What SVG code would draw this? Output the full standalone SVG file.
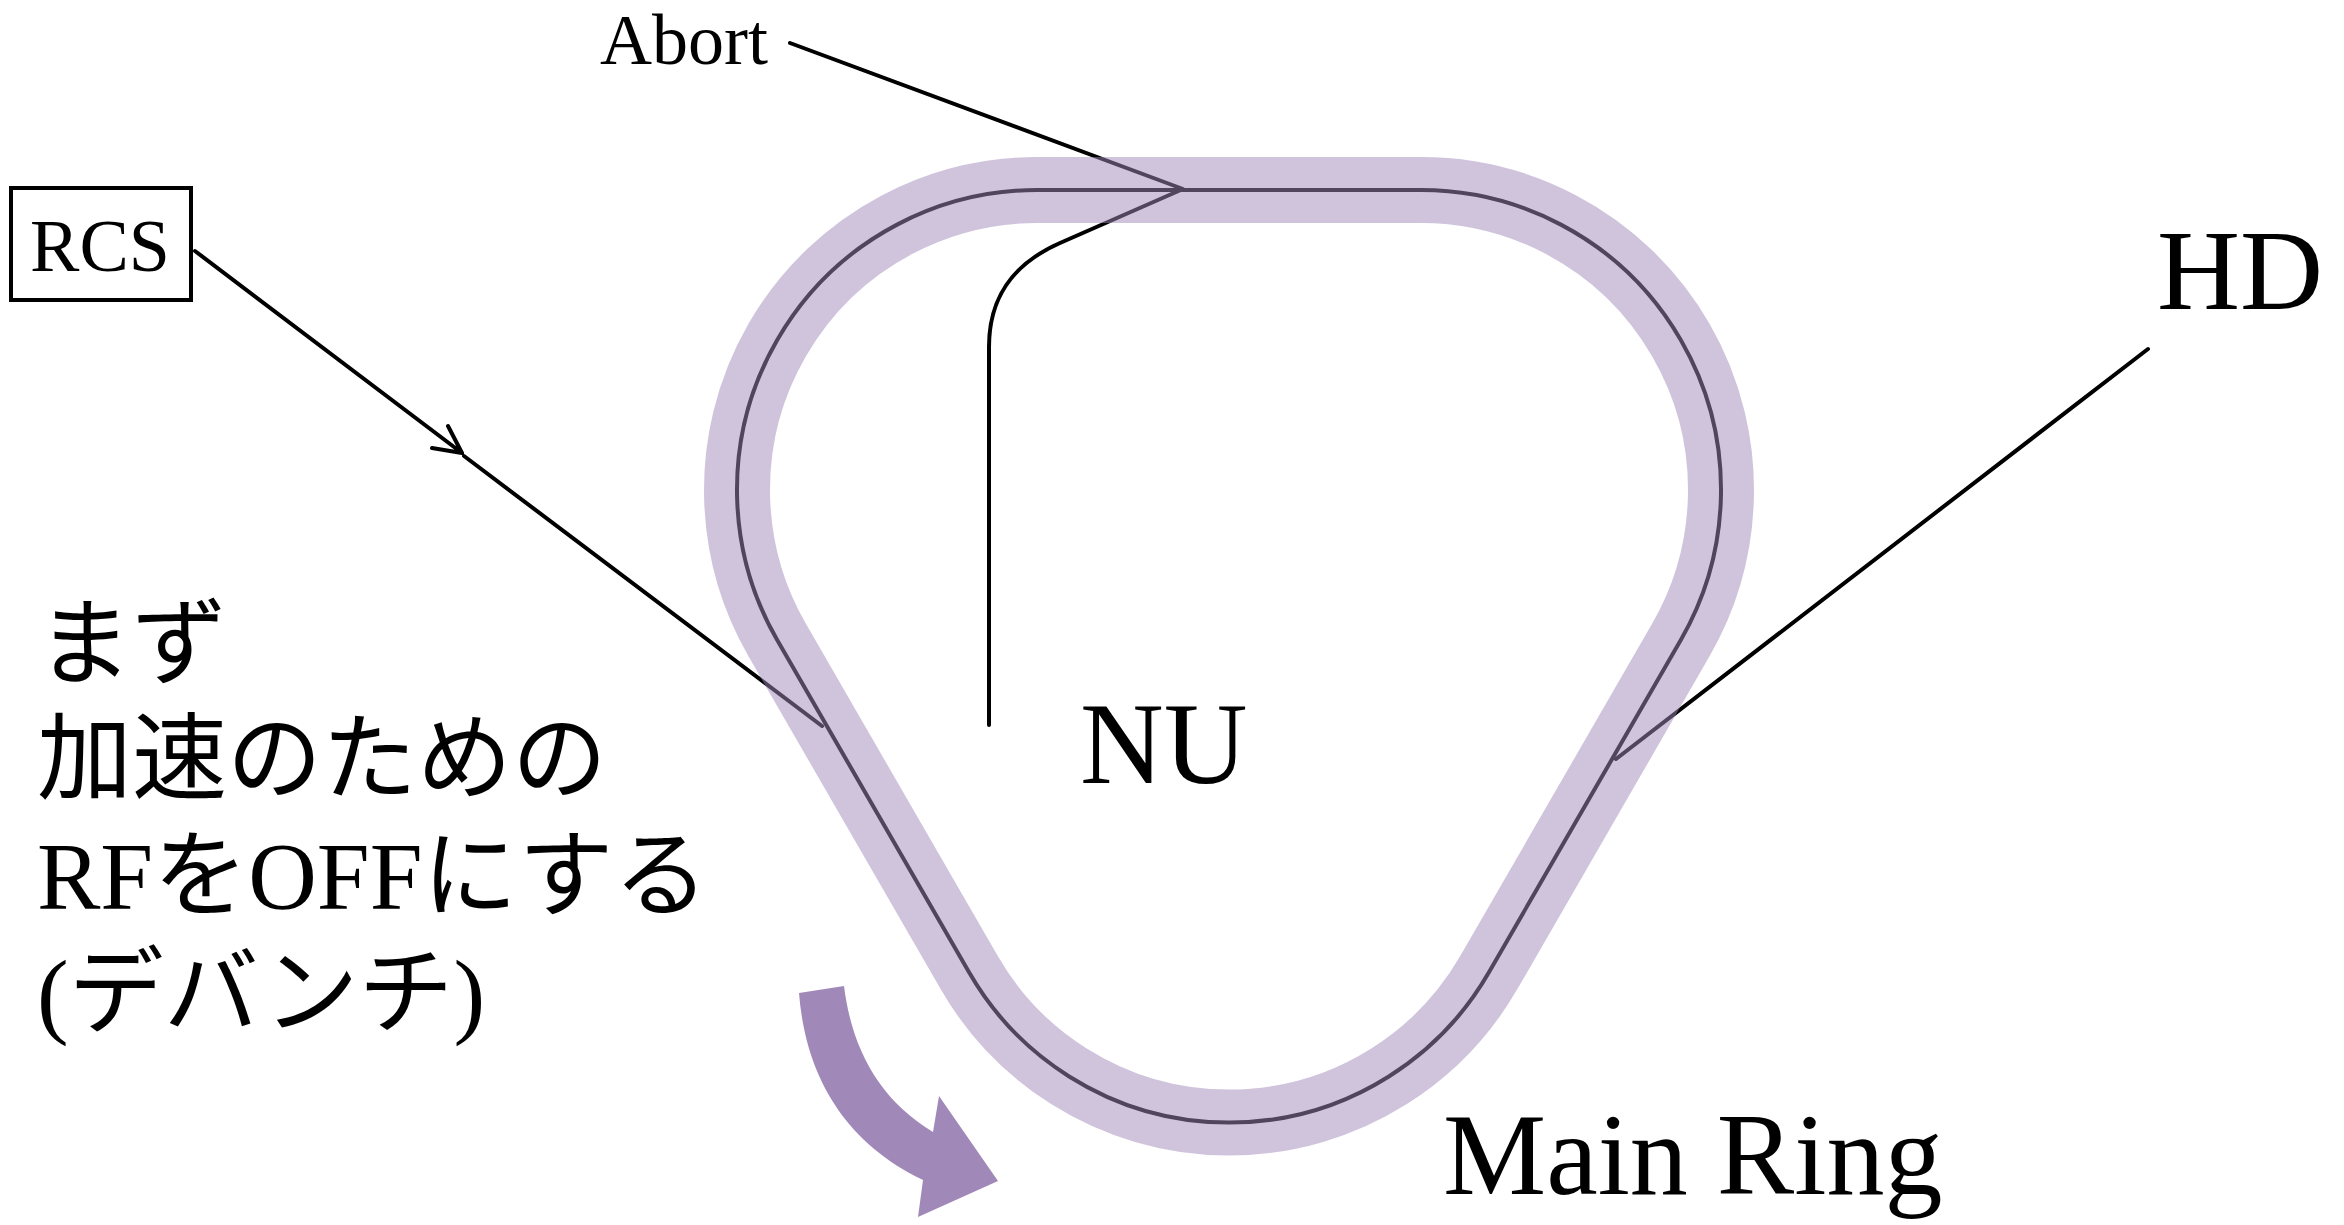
<svg xmlns="http://www.w3.org/2000/svg" width="2344" height="1225" viewBox="0 0 2344 1225">
<defs>
<style>
.ln{fill:none;stroke:#000;stroke-width:4;stroke-linecap:round;stroke-linejoin:round}
.band{fill:none;stroke:#A08AB9;stroke-opacity:0.5;stroke-width:66}
.lbl{font-family:"Liberation Serif","Times New Roman",serif;fill:#000}
.jp{font-family:"Liberation Serif","Noto Sans CJK JP",serif;font-size:95px;fill:#000}
</style>
</defs>
<rect width="2344" height="1225" fill="#fff"/>
<g id="connectors">
<path class="ln" d="M1037,190 L1421,190 A300,300 0 0 1 1680.8,640 L1488.8,972.6 A300,300 0 0 1 969.2,972.6 L777.2,640 A300,300 0 0 1 1037,190 Z"/>
<path class="ln" d="M790,43 L1183,189 L1060,243 C1010,265 989,300 989,347 L989,725"/>
<path class="ln" d="M195,251 L462,453 M448,426 L462,453 L432,448 M464,456 L822,726"/>
<path class="ln" d="M2148,349 L1616,759"/>
</g>
<g id="main-ring">
<path class="band" d="M1037,190 L1421,190 A300,300 0 0 1 1680.8,640 L1488.8,972.6 A300,300 0 0 1 969.2,972.6 L777.2,640 A300,300 0 0 1 1037,190 Z"/>
<text class="lbl" x="1443" y="1194" font-size="116">Main Ring</text>
</g>
<g id="rcs">
<rect x="11" y="188" width="180" height="112" fill="none" stroke="#000" stroke-width="4"/>
<text class="lbl" x="100" y="271" font-size="74" text-anchor="middle">RCS</text>
</g>
<g id="abort"><text class="lbl" x="600" y="64" font-size="72">Abort</text></g>
<g id="hd"><text class="lbl" x="2157" y="309" font-size="115">HD</text></g>
<g id="nu"><text class="lbl" x="1080" y="783" font-size="116">NU</text></g>
<g id="note">
<text class="jp" x="37" y="677">まず</text>
<text class="jp" x="37" y="792">加速のための</text>
<text class="jp" x="37" y="909">RFをOFFにする</text>
<text class="jp" x="37" y="1026">(デバンチ)</text>
</g>
<g id="rotation-arrow">
<path fill="#A089B9" d="M799,993 C805,1070 840,1140 923,1180 L918,1217 L998,1181 L939,1096 L933,1132 C880,1100 852,1050 844,986 Z"/>
</g>
</svg>
